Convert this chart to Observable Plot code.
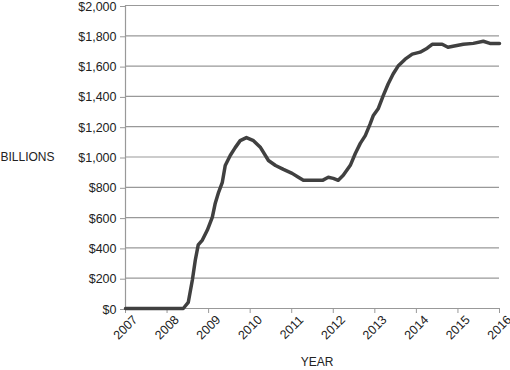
<!DOCTYPE html>
<html>
<head>
<meta charset="utf-8">
<script src="https://cdn.jsdelivr.net/npm/d3@7"></script>
<script src="https://cdn.jsdelivr.net/npm/@observablehq/plot@0.6"></script>
<style>
  html, body { margin: 0; padding: 0; background: #fff; }
  #chart svg { display: block; overflow: visible; }
</style>
</head>
<body>
<div id="chart"></div>
<script>
const years = [2007, 2008.39, 2008.51, 2008.61, 2008.68, 2008.75, 2008.85, 2008.97, 2009.09, 2009.16, 2009.24, 2009.33, 2009.40, 2009.52, 2009.64, 2009.76, 2009.91, 2010.08, 2010.25, 2010.44, 2010.61, 2010.80, 2011.01, 2011.16, 2011.28, 2011.74, 2011.88, 2012.00, 2012.12, 2012.24, 2012.41, 2012.53, 2012.65, 2012.77, 2012.89, 2012.96, 2013.08, 2013.20, 2013.32, 2013.44, 2013.56, 2013.73, 2013.90, 2014.09, 2014.26, 2014.38, 2014.62, 2014.76, 2014.88, 2015.13, 2015.37, 2015.61, 2015.77, 2016.0];
const values = [0, 0, 40, 190, 320, 420, 452, 518, 603, 695, 767, 833, 944, 1010, 1062, 1108, 1128, 1108, 1062, 977, 944, 918, 892, 866, 846, 846, 866, 859, 846, 879, 945, 1023, 1090, 1141, 1220, 1272, 1318, 1403, 1482, 1548, 1600, 1646, 1679, 1692, 1718, 1744, 1744, 1724, 1731, 1744, 1750, 1764, 1750, 1750];
const xTicks = [2007, 2008, 2009, 2010, 2011, 2012, 2013, 2014, 2015, 2016];
const yTicks = [0, 200, 400, 600, 800, 1000, 1200, 1400, 1600, 1800, 2000];
const yLabel = "BILLIONS";
const xLabel = "YEAR";

const data = years.map((y, i) => ({year: y, value: values[i]}));
const fmtY = d => "$" + d3.format(",")(d);

const chart = Plot.plot({
  width: 510,
  height: 370,
  marginLeft: 125,
  marginRight: 11,
  marginTop: 5,
  marginBottom: 62,
  style: {fontFamily: "'Liberation Sans', Arial, sans-serif", fontSize: "12px", color: "#222", background: "#fff"},
  x: {domain: [2007, 2016]},
  y: {domain: [0, 2000]},
  marks: [
    Plot.gridY(yTicks, {stroke: "#999", strokeOpacity: 1, strokeWidth: 1.2}),
    Plot.ruleX([2007], {stroke: "#999", strokeWidth: 1.2}),
    Plot.ruleY([0], {stroke: "#999", strokeWidth: 1.2}),
    Plot.axisY(yTicks, {tickFormat: fmtY, tickSize: 5, tickPadding: 4, dy: 1, stroke: "#999", fill: "#222", label: null, fontSize: 12.5}),
    Plot.axisX(xTicks, {tickFormat: null, text: null, tickSize: 5, stroke: "#999", label: null}),
    Plot.text(xTicks, {x: d => d, frameAnchor: "bottom", text: d => String(d), rotate: -45, textAnchor: "middle", lineAnchor: "middle", dy: 19, fill: "#222", fontSize: 12.5}),
    Plot.line(data, {x: "year", y: "value", stroke: "#404040", strokeWidth: 3.5, strokeLinejoin: "round", strokeLinecap: "round"}),
    Plot.text([yLabel], {frameAnchor: "left", dx: -125, textAnchor: "start", fill: "#222", fontSize: 12}),
    Plot.text([xLabel], {frameAnchor: "bottom", dy: 57, dx: 4.5, fill: "#222", fontSize: 12})
  ]
});
document.getElementById("chart").appendChild(chart);
</script>
</body>
</html>
